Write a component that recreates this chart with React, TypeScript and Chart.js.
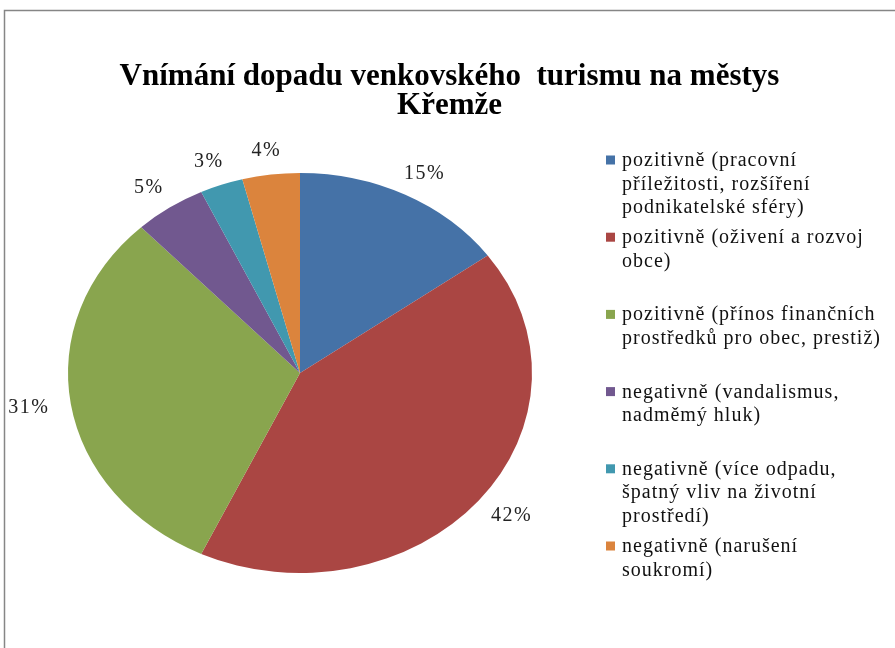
import { useEffect, useRef } from "react";
import { Chart, registerables } from "chart.js";

Chart.register(...registerables);

const TITLE_LINES = ["Vnímání dopadu venkovského  turismu na městys", "Křemže"];
const CATEGORIES: string[][] = [
  ["pozitivně (pracovní", "příležitosti, rozšíření", "podnikatelské sféry)"],
  ["pozitivně (oživení a rozvoj", "obce)"],
  ["pozitivně (přínos finančních", "prostředků pro obec, prestiž)"],
  ["negativně (vandalismus,", "nadměmý hluk)"],
  ["negativně (více odpadu,", "špatný vliv na životní", "prostředí)"],
  ["negativně (narušení", "soukromí)"],
];
const VALUES = [15, 42, 31, 5, 3, 4];
const PERCENT_LABELS = ["15%", "42%", "31%", "5%", "3%", "4%"];
const COLORS = ["#4572A7", "#AA4643", "#89A54E", "#71588F", "#4198AF", "#DB843D"];

const SERIF = "'Liberation Serif', 'Times New Roman', serif";
const SX = 1.16; // horizontal stretch of the pie (ellipse)

const ellipsePlugin = {
  id: "ellipse",
  beforeDatasetsDraw(chart: any) {
    const arc = chart.getDatasetMeta(0).data[0] as any;
    const ctx = chart.ctx;
    ctx.save();
    ctx.translate(arc.x, arc.y);
    ctx.scale(SX, 1);
    ctx.translate(-arc.x, -arc.y);
  },
  afterDatasetsDraw(chart: any) {
    chart.ctx.restore();
  },
};

const decorPlugin = {
  id: "decor",
  beforeDraw(chart: any) {
    const ctx = chart.ctx;
    ctx.save();
    ctx.fillStyle = "#ffffff";
    ctx.fillRect(0, 0, chart.width, chart.height);
    ctx.strokeStyle = "#868686";
    ctx.lineWidth = 1.5;
    ctx.strokeRect(4.5, 10.5, 2000, 2000);
    ctx.restore();
  },
  afterDraw(chart: any) {
    const ctx = chart.ctx;
    ctx.save();
    // title
    ctx.fillStyle = "#000000";
    ctx.textAlign = "center";
    ctx.textBaseline = "alphabetic";
    ctx.font = `bold 31px ${SERIF}`;
    TITLE_LINES.forEach((t, i) => ctx.fillText(t, chart.width / 2 + 2, 85 + i * 29));

    // percentage labels
    const meta = chart.getDatasetMeta(0);
    ctx.font = `20px ${SERIF}`;
    (ctx as any).letterSpacing = "1.5px";
    ctx.fillStyle = "#222222";
    ctx.textBaseline = "middle";
    meta.data.forEach((arc: any, i: number) => {
      const a = (arc.startAngle + arc.endAngle) / 2;
      const R = arc.outerRadius;
      const c = Math.cos(a);
      const s = Math.sin(a);
      const px = arc.x + SX * R * c;
      const py = arc.y + R * s;
      const label = PERCENT_LABELS[i];
      const w = ctx.measureText(label).width;
      const cx = px + c * (22 + w / 2);
      const cy = py + s * (16 + 8);
      ctx.textAlign = "center";
      ctx.fillText(label, cx, cy);
    });

    // legend
    const labels = chart.data.labels as string[][];
    const colors = chart.data.datasets[0].backgroundColor as string[];
    ctx.font = `20px ${SERIF}`;
    (ctx as any).letterSpacing = "1px";
    ctx.textAlign = "left";
    ctx.textBaseline = "alphabetic";
    labels.forEach((lines, i) => {
      const y0 = 160 + i * 77.2;
      ctx.fillStyle = colors[i];
      ctx.fillRect(606, y0 - 4.5, 9, 9);
      ctx.fillStyle = "#111111";
      lines.forEach((ln, j) => ctx.fillText(ln, 622, y0 + 6 + j * 23.5));
    });
    ctx.restore();
  },
};

export default function App() {
  const ref = useRef<HTMLCanvasElement | null>(null);
  useEffect(() => {
    if (!ref.current) return;
    const chart = new Chart(ref.current, {
      type: "pie",
      data: {
        labels: CATEGORIES,
        datasets: [
          {
            data: VALUES,
            backgroundColor: COLORS,
            borderWidth: 0,
          },
        ],
      },
      options: {
        responsive: false,
        animation: false,
        layout: { padding: { left: 100, right: 395, top: 173, bottom: 75 } },
        plugins: {
          legend: { display: false },
          title: { display: false },
          tooltip: { enabled: false },
        },
      },
      plugins: [ellipsePlugin, decorPlugin],
    });
    return () => chart.destroy();
  }, []);
  return (
    <div style={{ position: "absolute", left: 0, top: 0, width: 895, height: 648, background: "#fff" }}>
      <canvas ref={ref} width={895} height={648} />
    </div>
  );
}
